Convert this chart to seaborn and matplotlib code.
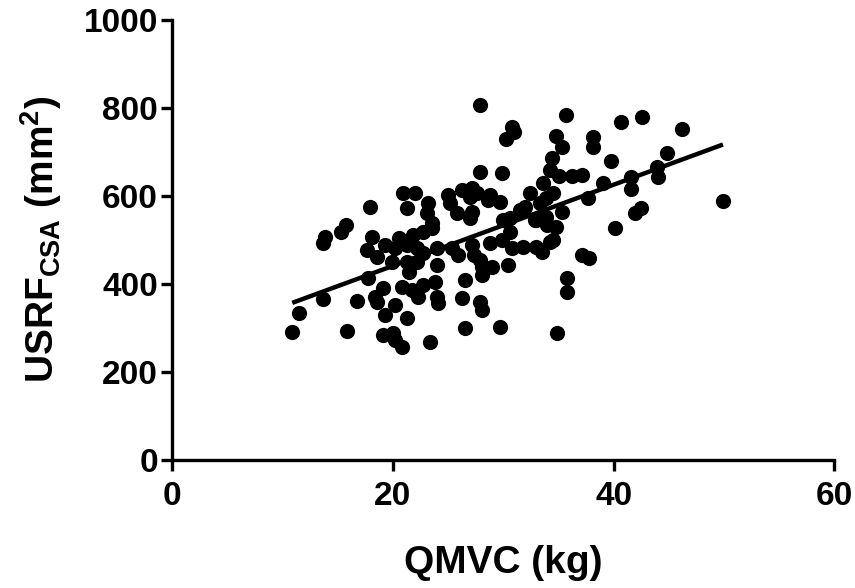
import numpy as np
import pandas as pd
import matplotlib
matplotlib.use("Agg")
import matplotlib.pyplot as plt
import seaborn as sns

# QMVC (kg) vs USRF CSA (mm^2)
qmvc = [10.9, 11.5, 13.7, 13.9, 13.7, 15.3, 15.8, 15.9, 16.8, 17.9,
        18.1, 17.7, 19.3, 18.6, 17.8, 19.1, 18.4, 18.6, 20.2, 19.3,
        19.1, 20.0, 20.2, 20.8, 21.3, 23.4, 20.9, 21.3, 22.0, 23.1,
        23.2, 20.6, 21.8, 22.7, 23.6, 23.6, 20.2, 21.3, 22.2, 22.7,
        24.0, 19.9, 21.3, 22.2, 21.5, 24.0, 20.8, 21.7, 22.3, 22.7,
        23.8, 24.0, 24.1, 25.0, 25.2, 26.3, 27.0, 25.8, 27.0, 27.2,
        25.4, 25.9, 27.2, 27.4, 27.9, 28.1, 29.0, 28.1, 27.9, 28.1,
        26.5, 26.3, 26.5, 29.7, 27.9, 29.9, 27.9, 28.6, 29.7, 28.8,
        29.9, 30.4, 30.6, 30.0, 30.6, 31.5, 32.4, 32.0, 32.9, 30.8,
        31.8, 33.0, 33.5, 30.8, 31.0, 30.3, 34.8, 35.3, 35.7, 38.1,
        38.1, 39.8, 40.7, 42.6, 46.2, 44.8, 43.9, 44.0, 41.6, 41.6,
        39.0, 34.4, 34.2, 35.1, 36.2, 37.1, 33.6, 34.5, 33.9, 37.7,
        35.3, 33.0, 33.9, 34.0, 34.8, 34.5, 34.2, 37.1, 37.8, 35.8,
        35.8, 34.9, 41.9, 42.5, 40.1, 49.9, 27.2, 27.6, 28.8, 33.3]
usrf_csa = [291, 334, 366, 507, 493, 518, 534, 293, 361, 575,
            507, 477, 489, 461, 414, 391, 370, 359, 352, 330,
            284, 289, 273, 257, 323, 268, 607, 573, 607, 561,
            584, 505, 511, 518, 527, 539, 482, 489, 482, 470,
            482, 450, 450, 450, 427, 443, 393, 386, 370, 398,
            405, 370, 357, 602, 584, 614, 598, 561, 550, 564,
            482, 466, 489, 466, 455, 439, 439, 420, 359, 341,
            409, 368, 300, 302, 655, 652, 807, 591, 586, 493,
            500, 443, 518, 545, 550, 568, 607, 575, 545, 482,
            484, 484, 473, 757, 745, 730, 736, 711, 784, 734,
            711, 680, 768, 780, 752, 698, 666, 643, 643, 616,
            630, 686, 659, 645, 645, 648, 630, 607, 595, 595,
            564, 545, 552, 534, 530, 500, 495, 466, 459, 414,
            382, 289, 561, 573, 527, 589, 618, 607, 602, 584]

x_ticks = [0, 20, 40, 60]
y_ticks = [0, 200, 400, 600, 800, 1000]

df = pd.DataFrame({"qmvc": qmvc, "usrf": usrf_csa})

sns.set_style("ticks")
plt.rcParams["font.family"] = ["Liberation Sans", "DejaVu Sans"]
plt.rcParams["font.weight"] = "bold"
plt.rcParams["text.color"] = "black"
plt.rcParams["axes.labelcolor"] = "black"
plt.rcParams["xtick.color"] = "black"
plt.rcParams["ytick.color"] = "black"
plt.rcParams["mathtext.fontset"] = "custom"
plt.rcParams["mathtext.rm"] = "Liberation Sans:bold"
plt.rcParams["mathtext.bf"] = "Liberation Sans:bold"

fig = plt.figure(figsize=(8.55, 5.88), dpi=100)
ax = fig.add_axes([0.201, 0.218, 0.775, 0.748])

sns.regplot(ax=ax, x="qmvc", y="usrf", data=df, ci=None, color="black",
            scatter_kws={"s": 120, "linewidths": 0, "alpha": 1},
            line_kws={"lw": 3.2, "solid_capstyle": "butt"})

ax.set_xlim(0, 60)
ax.set_ylim(0, 1000)
ax.set_xticks(x_ticks)
ax.set_yticks(y_ticks)
ax.tick_params(axis="both", direction="out", length=8, width=2.4,
               labelsize=24, colors="black")
ax.tick_params(axis="y", pad=2)
ax.tick_params(axis="x", pad=7)
for lab in ax.get_xticklabels() + ax.get_yticklabels():
    lab.set_fontweight("bold")

sns.despine(ax=ax)
for side in ["left", "bottom"]:
    ax.spines[side].set_linewidth(2.4)
    ax.spines[side].set_color("black")

ax.set_xlabel("QMVC (kg)", fontsize=28, fontweight="bold", labelpad=24)
ax.set_ylabel(r"USRF$_{\mathrm{CSA}}$ (mm$^{\mathrm{2}}$)", fontsize=28,
              fontweight="bold", labelpad=14)

fig.savefig("out.png", dpi=100)
